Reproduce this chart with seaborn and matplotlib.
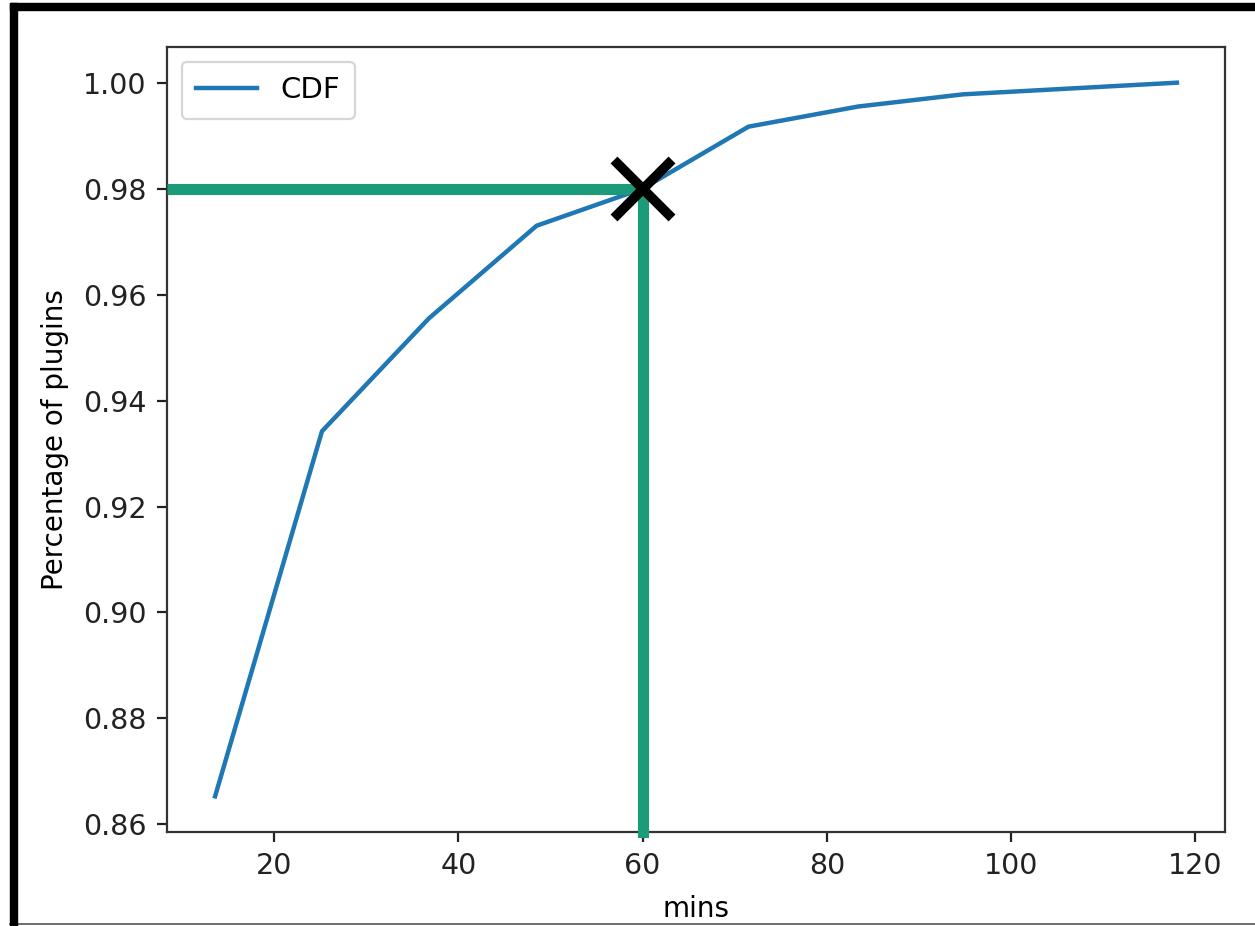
import matplotlib
matplotlib.use("Agg")
import matplotlib.pyplot as plt
import seaborn as sns
import pandas as pd
from matplotlib.patches import Rectangle
from matplotlib.lines import Line2D

# Data
mins = [13.6, 25.2, 36.8, 48.5, 60.0, 71.5, 83.4, 94.8, 118.0]
cdf = [0.8653, 0.9342, 0.9555, 0.9730, 0.9800, 0.9917, 0.9955, 0.9978, 1.0]
marker_x = 60
marker_y = 0.98
y_ticks = [0.86, 0.88, 0.90, 0.92, 0.94, 0.96, 0.98, 1.00]
x_ticks = [20, 40, 60, 80, 100, 120]

plt.rcParams['font.family'] = ['DejaVu Sans']
W, H = 1255, 926
fig = plt.figure(figsize=(W / 100, H / 100), dpi=100)
ax = fig.add_axes([167 / W, (H - 832) / H, (1225 - 167) / W, (832 - 47) / H])

df = pd.DataFrame({"mins": mins, "cdf": cdf})
sns.lineplot(data=df, x="mins", y="cdf", ax=ax, color="#1f77b4", linewidth=3.2,
             label="CDF", zorder=2)

xl = ax.get_xlim()
yl = ax.get_ylim()

green = "#1b9b77"
ax.plot([xl[0], marker_x], [marker_y, marker_y], color=green, linewidth=8,
        solid_capstyle="butt", zorder=3)
ax.plot([marker_x, marker_x], [yl[0], marker_y], color=green, linewidth=8,
        solid_capstyle="projecting", clip_on=False, zorder=3)
ax.plot([marker_x], [marker_y], marker="x", color="black", markersize=42,
        markeredgewidth=7, zorder=4, linestyle="none")

ax.set_xlim(xl)
ax.set_ylim(yl)
ax.set_xticks(x_ticks)
ax.set_yticks(y_ticks)
ax.set_yticklabels([f"{v:.2f}" for v in y_ticks])
ax.set_xlabel("mins", fontsize=20, labelpad=11)
ax.set_ylabel("Percentage of plugins", fontsize=20, labelpad=10)
ax.tick_params(axis="both", labelsize=20.5, length=7.5, width=1.6, colors="#222222",
               labelcolor="#222222", pad=7)
for s in ax.spines.values():
    s.set_linewidth(1.6)
    s.set_color("#333333")

leg = ax.legend(loc="upper left", fontsize=21, frameon=True, handlelength=2.1,
                borderpad=0.5, borderaxespad=0.5)
leg.get_frame().set_edgecolor("#cccccc")
leg.get_frame().set_linewidth(1.6)
for h in leg.get_lines():
    h.set_linewidth(3.2)

# Black frame around image (top and left bands, thin bottom line)
fig.patches.append(Rectangle((10 / W, (H - 10) / H), 1 - 10 / W, 7 / H,
                             transform=fig.transFigure, color="black", zorder=10))
fig.patches.append(Rectangle((10 / W, 0), 7 / W, (H - 3) / H,
                             transform=fig.transFigure, color="black", zorder=10))
fig.lines.append(Line2D([10 / W, 1], [2 / H, 2 / H], transform=fig.transFigure,
                        color="#555555", linewidth=1.2))

fig.savefig("out.png", dpi=100)
